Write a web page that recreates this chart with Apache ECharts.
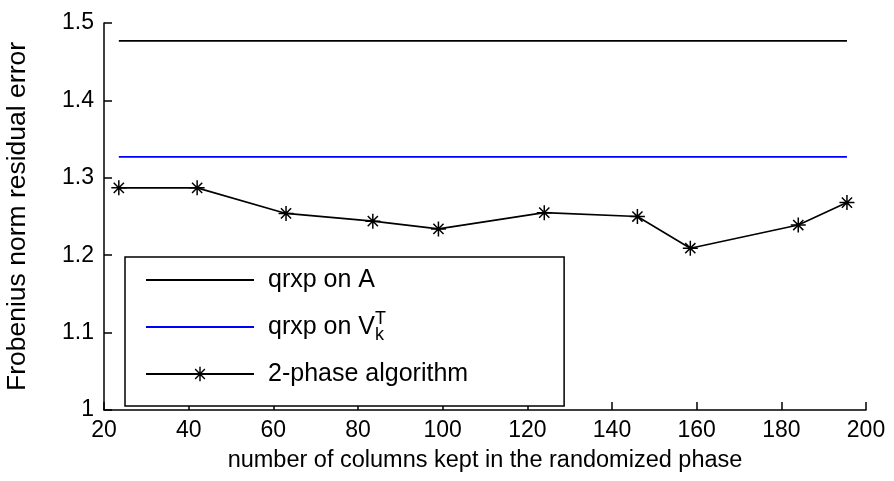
<!DOCTYPE html>
<html>
<head>
<meta charset="utf-8">
<script src="https://cdn.jsdelivr.net/npm/echarts@6/dist/echarts.min.js"></script>
<style>
  html, body { margin: 0; padding: 0; background: #fff; }
  #chart { width: 894px; height: 481px; }
</style>
</head>
<body>
<div id="chart"></div>
<script>
// Number of columns kept in the randomized phase
const columnsKept = [23.5, 42, 63, 83.5, 99, 124, 146, 158.5, 184, 195.5];

// Frobenius norm residual error for each method
const qrxpOnA  = [1.477, 1.477, 1.477, 1.477, 1.477, 1.477, 1.477, 1.477, 1.477, 1.477];
const qrxpOnVk = [1.327, 1.327, 1.327, 1.327, 1.327, 1.327, 1.327, 1.327, 1.327, 1.327];
const twoPhase = [1.287, 1.287, 1.254, 1.244, 1.234, 1.255, 1.250, 1.209, 1.239, 1.268];

// Tick labels
const xTickLabels = ['20', '40', '60', '80', '100', '120', '140', '160', '180', '200'];
const yTickLabels = ['1', '1.1', '1.2', '1.3', '1.4', '1.5'];

const seriesNames = ['qrxp on A', 'qrxp on Vk', '2-phase algorithm'];

const FONT = '"Liberation Sans", Arial, Helvetica, sans-serif';

// Asterisk marker built from four thin bars
const ASTERISK = 'path://M9,0 L11,0 L11,20 L9,20 Z M0,9 L20,9 L20,11 L0,11 Z ' +
  'M2.5,3.9 L3.9,2.5 L17.5,16.1 L16.1,17.5 Z M16.1,2.5 L17.5,3.9 L3.9,17.5 L2.5,16.1 Z';

const pair = (xs, ys) => xs.map((x, i) => [x, ys[i]]);

const chart = echarts.init(document.getElementById('chart'), null, { renderer: 'canvas' });

chart.setOption({
  backgroundColor: '#ffffff',
  animation: false,
  textStyle: { fontFamily: FONT },
  grid: { left: 104, right: 28, top: 23, bottom: 71, outerBoundsMode: 'none', containLabel: false },
  xAxis: {
    type: 'value',
    min: 20, max: 200, interval: 20,
    name: 'number of columns kept in the randomized phase',
    nameLocation: 'middle',
    nameGap: 39,
    nameTextStyle: { color: '#000', fontSize: 23.5, fontFamily: FONT },
    axisLine: { show: true, onZero: false, lineStyle: { color: '#000', width: 1.5 } },
    axisTick: { show: true, inside: true, length: 8, lineStyle: { color: '#000', width: 1.5 } },
    axisLabel: {
      color: '#000', fontSize: 23, fontFamily: FONT, margin: 9,
      formatter: v => xTickLabels[Math.round((v - 20) / 20)]
    },
    splitLine: { show: false }
  },
  yAxis: {
    type: 'value',
    min: 1, max: 1.5, interval: 0.1,
    name: 'Frobenius norm residual error',
    nameLocation: 'middle',
    nameGap: 73,
    nameTextStyle: { color: '#000', fontSize: 26.5, fontFamily: FONT },
    axisLine: { show: true, onZero: false, lineStyle: { color: '#000', width: 1.5 } },
    axisTick: { show: true, inside: true, length: 8, lineStyle: { color: '#000', width: 1.5 } },
    axisLabel: {
      color: '#000', fontSize: 23, fontFamily: FONT, margin: 10,
      formatter: v => yTickLabels[Math.round((v - 1) / 0.1)]
    },
    splitLine: { show: false }
  },
  legend: {
    orient: 'vertical',
    left: 125,
    top: 257,
    padding: [6, 96, 15, 20],
    itemGap: 13,
    itemWidth: 108,
    itemHeight: 18,
    borderColor: '#000',
    borderWidth: 1.5,
    borderRadius: 0,
    backgroundColor: '#fff',
    // plain lines show no marker in their legend sample
    data: [
      { name: seriesNames[0], itemStyle: { opacity: 0 } },
      { name: seriesNames[1], itemStyle: { opacity: 0 } },
      { name: seriesNames[2] }
    ],
    formatter: name => name === 'qrxp on Vk'
      ? 'qrxp on V{k|k}{t|T}'
      : name,
    textStyle: {
      color: '#000', fontSize: 25, fontFamily: FONT, lineHeight: 34,
      padding: [0, 0, 0, 9],
      rich: {
        k: { fontSize: 18, fontFamily: FONT, color: '#000', width: 0, lineHeight: 12, verticalAlign: 'bottom' },
        t: { fontSize: 18, fontFamily: FONT, color: '#000', lineHeight: 25, verticalAlign: 'top' }
      }
    }
  },
  series: [
    {
      name: seriesNames[0],
      type: 'line',
      data: pair(columnsKept, qrxpOnA),
      showSymbol: false,
      lineStyle: { color: '#000', width: 1.8 },
      itemStyle: { color: '#000' }
    },
    {
      name: seriesNames[1],
      type: 'line',
      data: pair(columnsKept, qrxpOnVk),
      showSymbol: false,
      lineStyle: { color: '#0000ff', width: 1.8 },
      itemStyle: { color: '#0000ff' }
    },
    {
      name: seriesNames[2],
      type: 'line',
      data: pair(columnsKept, twoPhase),
      symbol: ASTERISK,
      symbolSize: 15,
      lineStyle: { color: '#000', width: 1.6 },
      itemStyle: { color: '#000' }
    }
  ]
});
</script>
</body>
</html>
